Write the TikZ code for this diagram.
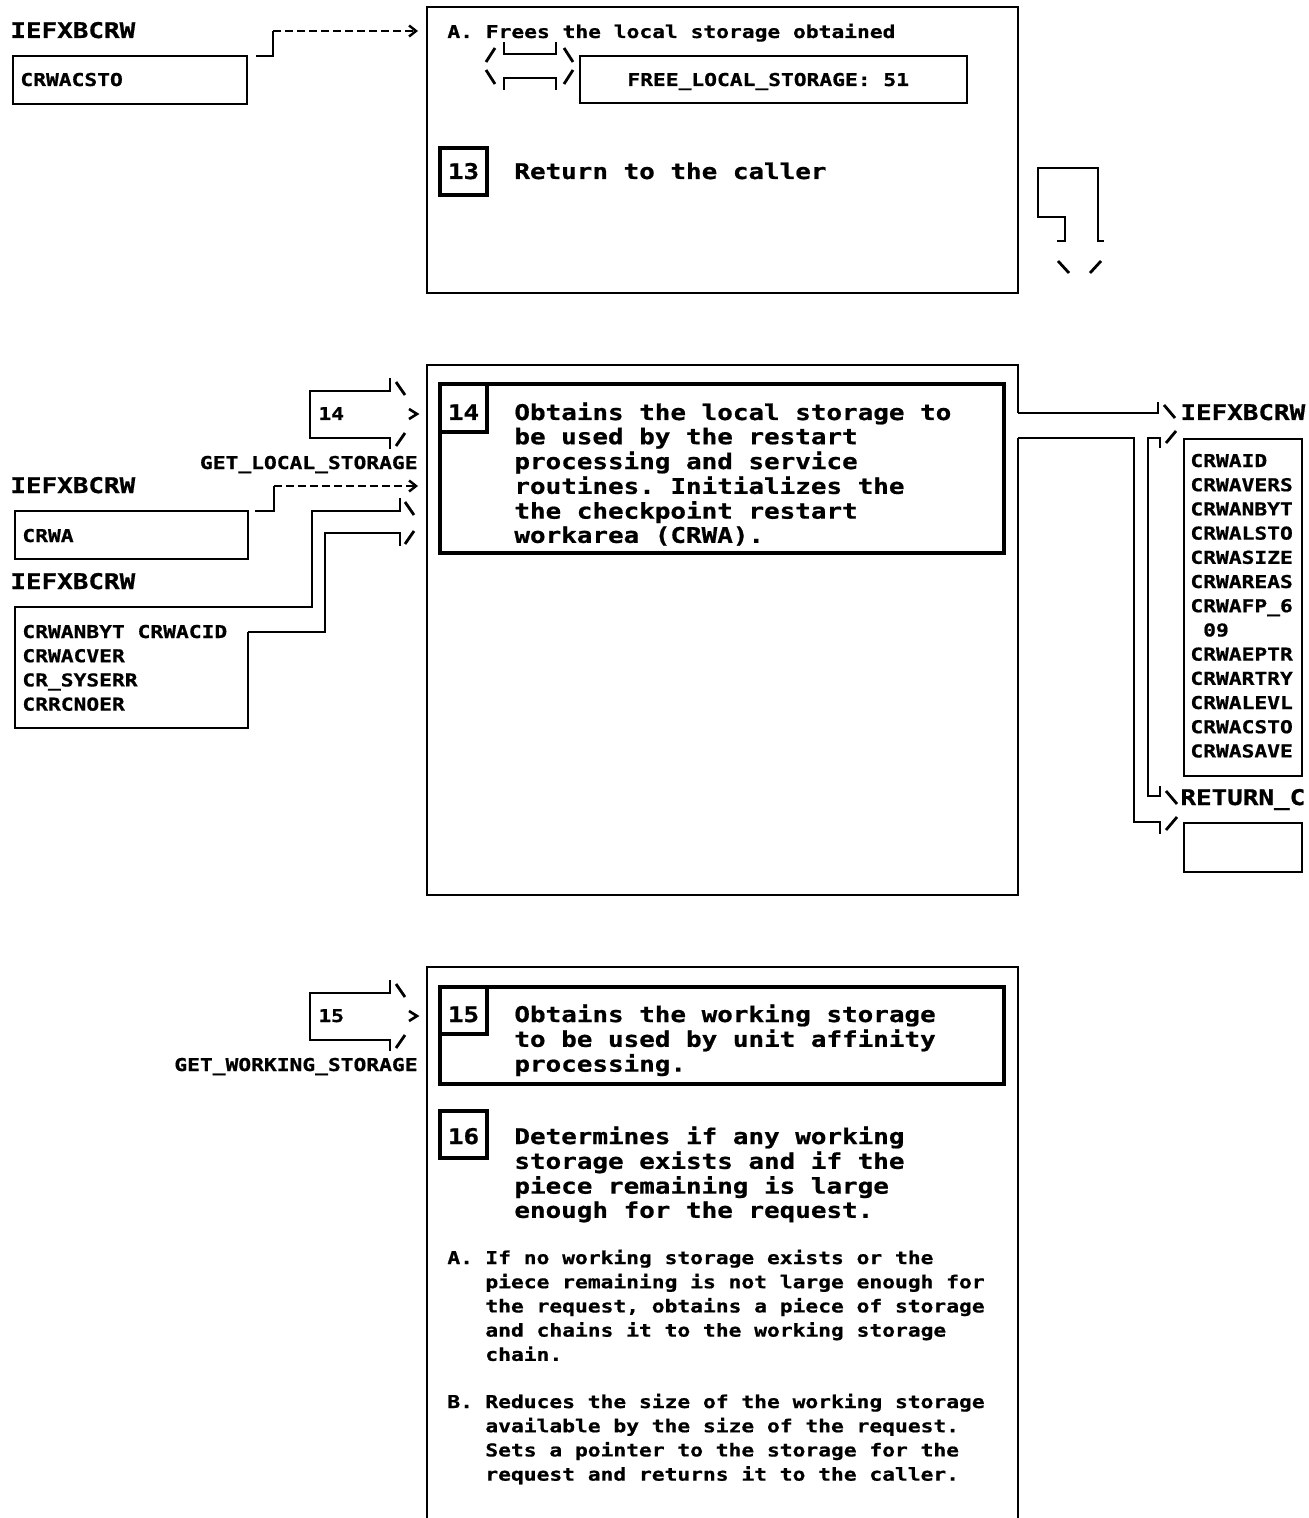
\documentclass[tikz,border=0pt]{standalone}
\usepackage{fontspec}
\usetikzlibrary{fit,calc,arrows.meta}
\newfontfamily\fmono[FakeStretch=1.2,FakeBold=0.8]{DejaVu Sans Mono Bold}
\newcommand\FA{\fmono\fontsize{10.8}{12.1}\selectfont\frenchspacing}
\newcommand\FB{\fmono\fontsize{8.86}{12.1}\selectfont\frenchspacing}
\begin{document}
\begin{tikzpicture}[x=0.5pt,y=-0.5pt,
  box/.style={draw,inner sep=0pt,outer sep=0pt,line width=1.3pt},
  ibox/.style={draw,inner sep=0pt,outer sep=0pt,line width=1.7pt},
  nobox/.style={inner sep=0pt,outer sep=0pt},
  big/.style={font=\FA,inner sep=0pt,anchor=base west},
  sml/.style={font=\FB,inner sep=0pt,anchor=base west},
  num/.style={font=\FA,inner sep=0pt,anchor=base},
  ln/.style={line width=1.3pt},
  sl/.style={line width=1.4pt},
  dsh/.style={line width=1.2pt,dash pattern=on 4pt off 2pt,-{Straight Barb[length=3.5pt,width=5.5pt,line width=1.2pt]}},
]
\useasboundingbox (0,0) rectangle (1309,1518);

%% ---------------- top section ----------------
\node[big] (lab1) at (10,38) {IEFXBCRW};
\node[box, fit={(13,56)(247,104)}] (b1) {};
\node[sml] (tcsto) at (20,86) {CRWACSTO};
\node[box, fit={(427,7)(1018,293)}] (A) {};
\draw[ln] ($(b1.north east)+(9,0)$) -- ++(17,0) coordinate (c1a) -- (c1a |- 0,31) coordinate (c1);
\draw[dsh] (c1) -- ($(A.west |- c1)+(-9,0)$);
\node[sml] (tA1) at (447,38) {A. Frees the local storage obtained};
% hexagon (loop) symbol
\draw[sl] (486,62) -- (495,48);
\draw[ln] (504,42) -- (504,54) -- (556,54) -- (556,42);
\draw[sl] (564,48) -- (573,62);
\draw[sl] (486,70) -- (495,84);
\draw[ln] (504,90) -- (504,78) -- (556,78) -- (556,90);
\draw[sl] (564,84) -- (573,70);
\node[box, fit={(580,56)(967,103)}] (free) {};
\node[sml] (tfree) at (627,86) {FREE\_LOCAL\_STORAGE: 51};
\node[ibox, fit={(440,148)(487,195)}] (n13) {};
\node[num] (n13t) at (463.5,179) {13};
\node[big] (t13) at (514,179) {Return to the caller};
% off-page connector
\draw[ln] (1057,241) -- (1065,241) -- (1065,217) -- (1038,217) -- (1038,168) -- (1098,168) -- (1098,241) -- (1104,241);
\draw[sl] (1058,261) -- (1069,273);
\draw[sl] (1101,261) -- (1090,273);

%% ---------------- middle section ----------------
\node[nobox, fit={(427,365)(1018,895)}] (B) {};
\draw[ln] (B.east |- 0,413) -- (B.north east) -- (B.north west) -- (B.south west) -- (B.south east) -- (B.east |- 0,438);
\node[ibox, fit={(440,384)(1004,553)}] (I14) {};
\node[ibox, fit={(440,384)(487,432)}] (n14) {};
\node[num] (n14t) at (463.5,420) {14};
\node[big] (t14) at (514,420) {\begin{tabular}[t]{@{}l@{}}Obtains the local storage to\\be used by the restart\\processing and service\\routines. Initializes the\\the checkpoint restart\\workarea (CRWA).\end{tabular}};
% entry 14
\draw[ln] (390,378) -- (390,391) -- (310,391) -- (310,438) -- (390,438) -- (390,449);
\draw[sl] (396,382) -- (405,395);
\draw[sl] (396,446) -- (405,433);
\draw[ln] (409,409) -- (417,414) -- (409,419);
\node[sml] (e14) at (318,420) {14};
\node[sml,anchor=base east] (g14) at (418,469) {GET\_LOCAL\_STORAGE};
% left inputs
\node[big] (lab2) at (10,493) {IEFXBCRW};
\node[box, fit={(15,511)(248,559)}] (crwa) {};
\node[sml] (tcrwa) at (22,542) {CRWA};
\draw[ln] ($(crwa.north east)+(7,0)$) -- ++(19,0) coordinate (c2a) -- (c2a |- 0,486) coordinate (c2);
\draw[dsh] (c2) -- ($(B.west |- c2)+(-9,0)$);
\node[big] (lab3) at (10,589) {IEFXBCRW};
\node[nobox, fit={(15,607)(248,728)}] (L) {};
\draw[ln] (L.east |- 0,632) -- (L.south east) -- (L.south west) -- (L.north west) -- (L.north east) -- (312,607) -- (312,511) -- (400,511) -- (400,498);
\draw[ln] (L.east |- 0,632) -- (325,632) -- (325,533) -- (400,533) -- (400,546);
\draw[sl] (405,502) -- (414,515);
\draw[sl] (405,544) -- (414,531);
\node[sml] (tL) at (22,638) {\begin{tabular}[t]{@{}l@{}}CRWANBYT CRWACID\\CRWACVER\\CR\_SYSERR\\CRRCNOER\end{tabular}};
% right outputs
\draw[ln] (B.east |- 0,413) -- (1158,413) -- (1158,402);
\draw[sl] (1164,405) -- (1175,418);
\node[big] (lab4) at (1180,420) {IEFXBCRW};
\draw[ln] (B.east |- 0,438) -- (1134,438) -- (1134,822) -- (1160,822) -- (1160,834);
\draw[ln] (1160,448) -- (1160,438) -- (1148,438) -- (1148,796) -- (1160,796) -- (1160,786);
\draw[sl] (1166,443) -- (1176,431);
\draw[sl] (1166,791) -- (1177,804);
\draw[sl] (1166,830) -- (1177,817);
\node[box, fit={(1184,439)(1302,776)}] (R1) {};
\node[sml] (tR1) at (1190,467) {\begin{tabular}[t]{@{}l@{}}CRWAID\\CRWAVERS\\CRWANBYT\\CRWALSTO\\CRWASIZE\\CRWAREAS\\CRWAFP\_6\\\phantom{0}09\\CRWAEPTR\\CRWARTRY\\CRWALEVL\\CRWACSTO\\CRWASAVE\end{tabular}};
\node[big] (lab5) at (1180,805) {RETURN\_C};
\node[box, fit={(1184,823)(1302,872)}] (R2) {};

%% ---------------- bottom section ----------------
\node[nobox, fit={(427,967)(1018,1518)}] (C) {};
\draw[ln] (C.south west) -- (C.north west) -- (C.north east) -- (C.south east);
\node[ibox, fit={(440,987)(1004,1084)}] (I15) {};
\node[ibox, fit={(440,987)(487,1034)}] (n15) {};
\node[num] (n15t) at (463.5,1022) {15};
\node[big] (t15) at (514,1022) {\begin{tabular}[t]{@{}l@{}}Obtains the working storage\\to be used by unit affinity\\processing.\end{tabular}};
\node[ibox, fit={(440,1111)(487,1158)}] (n16) {};
\node[num] (n16t) at (463.5,1144) {16};
\node[big] (t16) at (514,1144) {\begin{tabular}[t]{@{}l@{}}Determines if any working\\storage exists and if the\\piece remaining is large\\enough for the request.\end{tabular}};
\node[sml] (pA) at (447,1264) {A.};
\node[sml] (tA) at (485,1264) {\begin{tabular}[t]{@{}l@{}}If no working storage exists or the\\piece remaining is not large enough for\\the request, obtains a piece of storage\\and chains it to the working storage\\chain.\end{tabular}};
\node[sml] (pB) at (447,1408) {B.};
\node[sml] (tB) at (485,1408) {\begin{tabular}[t]{@{}l@{}}Reduces the size of the working storage\\available by the size of the request.\\Sets a pointer to the storage for the\\request and returns it to the caller.\end{tabular}};
% entry 15
\draw[ln] (390,980) -- (390,993) -- (310,993) -- (310,1040) -- (390,1040) -- (390,1051);
\draw[sl] (396,984) -- (405,997);
\draw[sl] (396,1048) -- (405,1035);
\draw[ln] (409,1011) -- (417,1016) -- (409,1021);
\node[sml] (e15) at (318,1022) {15};
\node[sml,anchor=base east] (g15) at (418,1071) {GET\_WORKING\_STORAGE};
\end{tikzpicture}
\end{document}
